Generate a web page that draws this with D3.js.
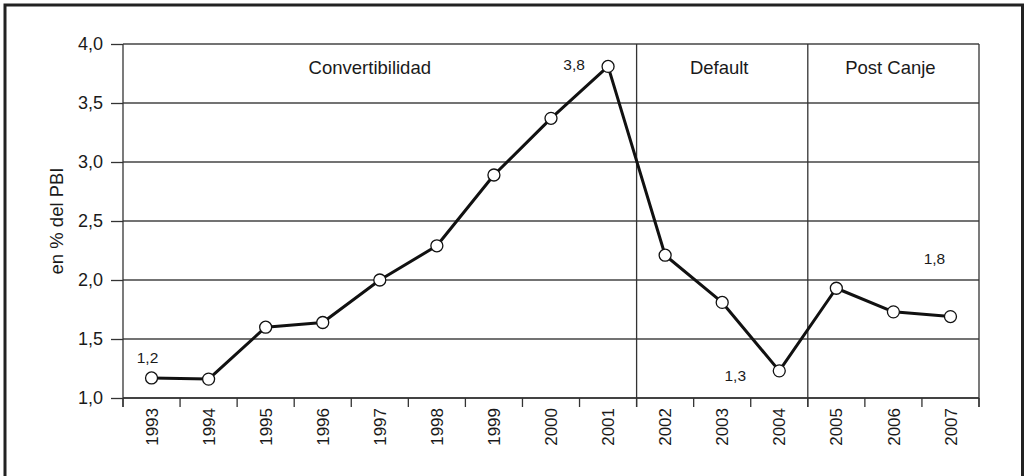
<!DOCTYPE html>
<html>
<head>
<meta charset="utf-8">
<script src="https://cdn.jsdelivr.net/npm/d3@7/dist/d3.min.js"></script>
<style>
  html, body { margin: 0; padding: 0; background: #fff; }
  svg { display: block; font-family: "Liberation Sans", Arial, sans-serif; }
</style>
</head>
<body>
<svg id="chart" width="1026" height="476"></svg>
<script>
const years = ["1993","1994","1995","1996","1997","1998","1999","2000","2001","2002","2003","2004","2005","2006","2007"];
const values = [1.17, 1.16, 1.60, 1.64, 2.00, 2.29, 2.89, 3.37, 3.81, 2.21, 1.81, 1.23, 1.93, 1.73, 1.69];
const yTicks = [1.0, 1.5, 2.0, 2.5, 3.0, 3.5, 4.0];
const periods = ["Convertibilidad", "Default", "Post Canje"];
const periodStart = ["1993", "2002", "2005"];
const periodEnd = ["2001", "2004", "2007"];
const annotationTexts = ["1,2", "3,8", "1,3", "1,8"];
const annotationYears = ["1993", "2001", "2004", "2007"];
const yTitle = "en % del PBI";

const svg = d3.select("#chart");
const W = 1026, H = 476;
const m = { left: 123, right: 47, top: 44, bottom: 78 };
const x0 = m.left, x1 = W - m.right, y0 = H - m.bottom, y1 = m.top;

const x = d3.scaleBand().domain(years).range([x0, x1]).padding(0);
const y = d3.scaleLinear().domain([1, 4]).range([y0, y1]);
const fmt = d => d3.format(".1f")(d).replace(".", ",");

// outer frame
svg.append("rect").attr("x", 5).attr("y", 5).attr("width", 1017.5).attr("height", 490)
  .attr("fill", "none").attr("stroke", "#222").attr("stroke-width", 3);

// horizontal gridlines
svg.append("g").selectAll("line").data(yTicks).join("line")
  .attr("x1", x0).attr("x2", x1)
  .attr("y1", d => y(d)).attr("y2", d => y(d))
  .attr("stroke", "#444").attr("stroke-width", 1.3);

// y axis
const yAxis = svg.append("g").attr("transform", `translate(${x0},0)`)
  .call(d3.axisLeft(y).tickValues(yTicks).tickFormat(fmt).tickSize(12).tickPadding(8));
yAxis.select(".domain").remove();
yAxis.selectAll(".tick line").attr("stroke", "#333").attr("stroke-width", 1.3);
yAxis.selectAll(".tick text").attr("font-size", 18).attr("fill", "#1a1a1a")
  .attr("font-family", "Liberation Sans, Arial, sans-serif");

// vertical frame lines (left, period separators, right)
const vLines = [x(periodStart[0]), x(periodStart[1]), x(periodStart[2]), x1];
svg.append("g").selectAll("line").data(vLines).join("line")
  .attr("x1", d => d).attr("x2", d => d)
  .attr("y1", y1).attr("y2", y0 + 9)
  .attr("stroke", "#333").attr("stroke-width", 1.3);

// x tick marks at band edges
const edges = years.map(d => x(d)).concat([x1]);
svg.append("g").selectAll("line").data(edges).join("line")
  .attr("x1", d => d).attr("x2", d => d)
  .attr("y1", y0).attr("y2", y0 + 9)
  .attr("stroke", "#333").attr("stroke-width", 1.3);

// x labels via axis
const xAxis = svg.append("g").attr("transform", `translate(0,${y0})`)
  .call(d3.axisBottom(x).tickSize(0).tickPadding(0));
xAxis.select(".domain").remove();
xAxis.selectAll(".tick text")
  .attr("font-size", 17).attr("fill", "#1a1a1a")
  .attr("font-family", "Liberation Sans, Arial, sans-serif")
  .attr("text-anchor", "end")
  .attr("transform", "rotate(-90)")
  .attr("x", -10).attr("y", 0).attr("dy", "0.36em");

// bottom axis line
svg.append("line").attr("x1", x0).attr("x2", x1).attr("y1", y0).attr("y2", y0)
  .attr("stroke", "#333").attr("stroke-width", 1.3);

// period labels
const periodDx = [-10, -3, -3];
svg.append("g").selectAll("text").data(periods).join("text")
  .attr("x", (d, i) => (x(periodStart[i]) + x(periodEnd[i]) + x.bandwidth()) / 2 + periodDx[i])
  .attr("y", y(3.75))
  .attr("text-anchor", "middle").attr("font-size", 18.5).attr("fill", "#1a1a1a")
  .text(d => d);

// y title
svg.append("text")
  .attr("transform", `translate(63,${(y0 + y1) / 2}) rotate(-90)`)
  .attr("text-anchor", "middle").attr("font-size", 18.5).attr("fill", "#1a1a1a")
  .text(yTitle);

// line
const cx = d => x(d) + x.bandwidth() / 2;
const line = d3.line().x((d, i) => cx(years[i])).y(d => y(d));
svg.append("path").datum(values).attr("d", line)
  .attr("fill", "none").attr("stroke", "#111").attr("stroke-width", 3)
  .attr("stroke-linejoin", "round");

// points
svg.append("g").selectAll("circle").data(values).join("circle")
  .attr("cx", (d, i) => cx(years[i])).attr("cy", d => y(d)).attr("r", 6)
  .attr("fill", "#fff").attr("stroke", "#111").attr("stroke-width", 1.3);

// annotations
const annDx = [-4, -34, -44, -16];
const annDy = [-15, 4, 10, -53];
svg.append("g").selectAll("text").data(annotationTexts).join("text")
  .attr("x", (d, i) => cx(annotationYears[i]) + annDx[i])
  .attr("y", (d, i) => y(values[years.indexOf(annotationYears[i])]) + annDy[i])
  .attr("text-anchor", "middle").attr("font-size", 15.5).attr("fill", "#1a1a1a")
  .text(d => d);
</script>
</body>
</html>
